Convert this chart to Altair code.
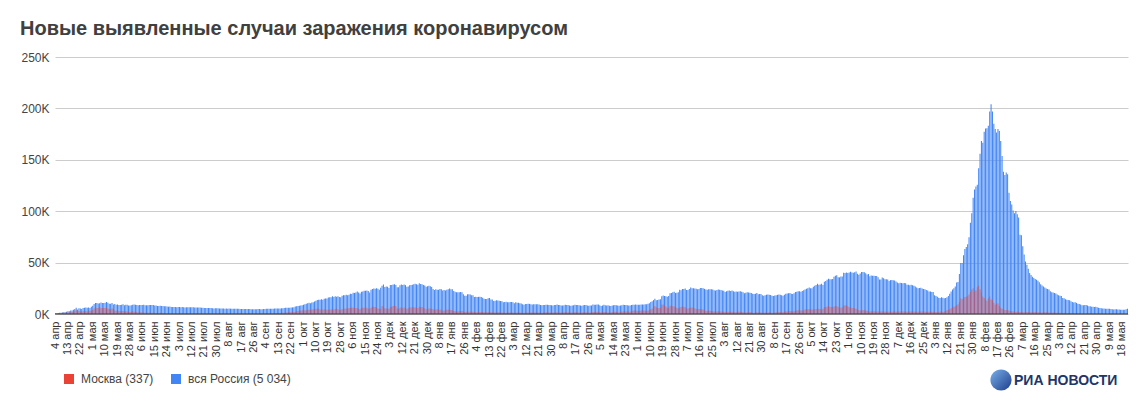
import altair as alt
import pandas as pd

# Daily new cases, thousands. Series starts on 4 Apr 2020, one value per day.
# Each inner list is one calendar month.
ru_2020 = [
    # Apr (from 4th)
    [0.58, 0.66, 0.95, 1.15, 1.18, 1.46, 1.79, 1.67, 2.19, 2.56,
     2.77, 3.39, 3.45, 4.07, 4.79, 6.06, 4.27, 5.64, 5.24, 4.77,
     5.85, 5.97, 6.36, 6.20, 6.41, 5.84, 7.10],
    # May
    [7.93, 9.62, 10.63, 10.58, 10.10, 10.56, 11.23, 10.70, 10.82, 11.01,
     11.66, 10.90, 10.03, 9.97, 10.60, 9.20, 9.71, 8.93, 9.26, 8.76,
     8.85, 8.89, 9.43, 8.60, 8.95, 8.92, 8.34, 8.37, 8.57, 8.95, 9.27],
    # Jun
    [9.04, 8.86, 8.54, 8.83, 8.73, 8.86, 8.98, 8.60, 8.59, 8.40,
     8.78, 8.71, 8.71, 8.83, 8.25, 8.25, 7.84, 7.79, 7.97, 7.89,
     7.73, 7.60, 7.43, 7.18, 7.11, 7.18, 6.85, 6.79, 6.69, 6.69],
    # Jul
    [6.56, 6.76, 6.76, 6.63, 6.74, 6.61, 6.37, 6.56, 6.51, 6.64,
     6.61, 6.62, 6.54, 6.25, 6.42, 6.43, 6.43, 6.41, 6.11, 6.00,
     5.84, 5.86, 5.81, 5.81, 5.87, 5.77, 5.64, 5.39, 5.48, 5.51, 5.48],
    # Aug
    [5.46, 5.43, 5.43, 5.40, 5.20, 5.24, 5.21, 5.24, 5.19, 5.12,
     5.10, 5.10, 5.06, 5.06, 5.06, 4.92, 4.84, 4.75, 4.79, 4.77,
     4.87, 4.92, 4.85, 4.68, 4.68, 4.68, 4.68, 4.71, 4.98, 4.89, 4.73],
    # Sep
    [4.73, 4.75, 4.95, 5.11, 5.20, 5.19, 5.10, 5.10, 5.10, 5.36,
     5.41, 5.45, 5.41, 5.45, 5.53, 5.67, 5.90, 6.07, 6.07, 6.14,
     6.15, 6.21, 6.43, 6.60, 7.21, 7.52, 7.87, 8.14, 8.23, 8.48],
    # Oct
    [8.95, 9.41, 9.86, 10.50, 10.89, 10.50, 11.12, 11.49, 12.13, 12.85,
     13.63, 13.87, 13.87, 14.23, 13.75, 14.92, 15.15, 15.05, 15.98, 16.32,
     16.32, 17.34, 16.52, 17.36, 16.71, 17.35, 16.55, 16.20, 17.72, 18.28, 18.14],
    # Nov
    [18.67, 18.26, 18.65, 19.77, 19.40, 20.58, 20.50, 20.98, 21.80, 20.98,
     19.85, 21.61, 21.98, 22.70, 22.57, 22.78, 22.41, 20.98, 23.61, 24.32,
     24.82, 24.58, 25.17, 24.58, 23.68, 25.49, 27.54, 28.78, 26.34, 26.68],
    # Dec
    [26.40, 25.35, 28.14, 28.21, 28.78, 29.04, 28.14, 26.10, 26.10, 27.93,
     28.58, 28.14, 28.59, 28.08, 26.43, 26.81, 27.95, 28.21, 28.55, 28.95,
     29.35, 28.93, 28.55, 29.94, 29.26, 29.02, 28.28, 27.79, 26.51, 27.04, 27.39],
]

ru_2021 = [
    # Jan
    [27.03, 26.30, 24.25, 23.35, 24.15, 23.54, 23.65, 24.25, 24.09, 22.85,
     23.31, 22.93, 23.54, 24.10, 24.72, 24.09, 23.96, 22.34, 21.73, 21.11,
     21.15, 21.13, 21.34, 21.13, 19.29, 17.74, 17.65, 19.14, 19.24, 19.03, 18.36],
    # Feb
    [18.36, 16.64, 16.71, 16.47, 16.69, 16.69, 16.42, 15.92, 14.93, 14.61,
     14.49, 15.22, 15.45, 14.18, 14.21, 12.74, 12.82, 13.43, 13.23, 12.95,
     12.74, 12.37, 11.53, 11.75, 11.83, 11.37, 11.53, 11.57],
    # Mar
    [11.57, 11.39, 10.54, 11.35, 11.02, 10.90, 10.51, 10.10, 9.43, 9.08,
     9.80, 9.64, 9.95, 9.85, 9.45, 9.30, 9.43, 9.39, 9.40, 9.55,
     9.27, 8.84, 8.46, 8.86, 8.77, 9.09, 9.07, 8.79, 8.72, 8.63, 8.33],
    # Apr
    [8.77, 8.78, 9.15, 8.65, 8.67, 8.33, 8.29, 8.63, 9.09, 8.81,
     8.70, 8.17, 8.05, 8.17, 8.59, 9.01, 8.73, 8.71, 8.53, 8.15,
     8.05, 8.60, 8.75, 8.78, 8.31, 8.05, 8.30, 8.27, 9.27, 8.95],
    # May
    [8.91, 9.12, 9.16, 8.60, 7.77, 8.26, 8.99, 8.59, 8.33, 8.43,
     7.98, 7.77, 8.22, 8.46, 8.79, 8.55, 8.20, 7.92, 8.22, 8.54,
     8.95, 8.82, 8.79, 8.49, 8.37, 8.19, 8.81, 8.95, 9.07, 9.27, 9.07],
    # Jun
    [9.02, 9.05, 9.32, 9.29, 9.33, 9.44, 9.41, 9.86, 10.41, 11.70,
     12.51, 13.51, 14.72, 13.40, 13.72, 14.06, 14.44, 17.26, 17.91, 17.61,
     17.38, 16.72, 17.59, 20.18, 20.39, 21.04, 21.65, 20.54, 20.62, 21.04],
    # Jul
    [23.54, 23.22, 24.44, 24.35, 24.70, 23.38, 23.29, 24.43, 25.77, 25.08,
     25.05, 24.70, 24.51, 23.96, 24.29, 25.29, 25.19, 25.16, 24.47, 23.77,
     23.70, 24.07, 24.14, 24.08, 23.95, 23.19, 22.80, 23.31, 23.81, 23.56, 23.27],
    # Aug
    [22.80, 22.59, 21.38, 22.12, 22.59, 22.82, 22.30, 22.77, 22.16, 21.57,
     21.93, 21.63, 21.99, 22.15, 21.62, 21.17, 20.30, 20.56, 21.06, 20.99,
     20.76, 20.40, 19.63, 19.57, 19.71, 20.37, 19.31, 19.51, 19.55, 18.33, 17.81],
    # Sep
    [18.34, 18.78, 18.86, 18.65, 18.40, 17.86, 17.53, 18.07, 18.34, 18.63,
     18.85, 18.73, 18.34, 17.84, 18.84, 19.59, 19.90, 20.17, 20.33, 19.71,
     19.38, 20.17, 21.38, 21.56, 22.07, 22.24, 21.56, 22.43, 23.06, 23.89],
    # Oct
    [24.52, 25.13, 25.78, 25.11, 25.13, 26.61, 27.55, 28.19, 29.36, 28.56,
     28.72, 29.41, 28.29, 31.30, 32.20, 33.21, 34.30, 33.74, 33.74, 34.07,
     36.34, 37.14, 37.68, 35.66, 35.66, 36.45, 36.58, 40.10, 39.85, 40.25, 39.85],
    # Nov
    [40.40, 40.99, 40.45, 40.22, 40.73, 41.34, 39.16, 38.06, 39.40, 40.78,
     40.76, 40.73, 39.67, 38.42, 38.82, 36.82, 37.37, 37.16, 37.12, 36.97,
     36.97, 35.68, 33.60, 33.56, 35.39, 34.76, 33.74, 33.86, 33.55, 32.14],
    # Dec
    [32.93, 33.01, 32.93, 32.65, 31.68, 30.65, 29.90, 30.40, 30.11, 30.02,
     30.23, 29.93, 28.49, 28.49, 27.97, 28.36, 27.96, 27.43, 26.82, 25.76,
     24.95, 25.19, 25.53, 24.70, 24.37, 24.12, 23.45, 22.93, 21.92, 21.99, 21.43],
]

ru_2022 = [
    # Jan
    [21.40, 18.20, 17.53, 16.72, 15.86, 15.61, 16.37, 15.83, 15.38, 15.51,
     16.25, 17.41, 19.75, 21.80, 23.82, 25.14, 26.82, 30.73, 31.25, 38.85,
     49.51, 49.51, 57.21, 63.21, 65.11, 67.81, 74.69, 88.82, 98.04, 113.12, 121.23],
    # Feb
    [124.07, 125.84, 141.88, 155.77, 168.20, 166.63, 177.27, 180.46, 180.71, 183.10,
     197.08, 203.95, 197.08, 185.00, 180.07, 176.48, 179.86, 178.07, 168.20, 153.71,
     138.37, 135.16, 137.58, 136.00, 118.00, 110.00, 106.60, 100.60],
    # Mar
    [98.00, 100.10, 96.97, 93.95, 77.09, 76.70, 65.80, 58.00, 51.00, 48.00,
     44.00, 40.00, 38.00, 36.12, 35.00, 34.00, 33.31, 32.30, 30.90, 28.98,
     27.64, 26.82, 25.86, 24.86, 24.28, 23.91, 22.10, 21.15, 20.89, 20.50, 19.90],
    # Apr
    [19.02, 18.28, 17.74, 17.46, 15.50, 15.40, 14.44, 13.91, 13.55, 13.41,
     12.41, 11.57, 11.11, 11.37, 10.82, 10.04, 9.76, 9.24, 8.43, 8.62,
     8.64, 8.76, 8.19, 7.62, 7.45, 7.15, 7.07, 6.89, 6.98, 6.61],
    # May (to 22nd)
    [6.20, 5.88, 5.58, 5.45, 5.31, 5.20, 5.15, 5.13, 5.05, 4.86,
     4.50, 4.48, 4.51, 4.60, 4.34, 4.35, 4.20, 4.24, 4.24, 4.20,
     4.60, 5.03],
]

msk_2020 = [
    # Apr (from 4th)
    [0.43, 0.40, 0.70, 0.70, 0.70, 1.12, 1.31, 1.12, 1.35, 1.49,
     1.36, 1.77, 1.96, 2.23, 3.08, 3.57, 2.65, 2.94, 2.68, 2.54,
     2.56, 2.96, 2.96, 2.51, 3.08, 3.18, 3.08],
    # May
    [3.87, 5.36, 6.00, 5.95, 5.85, 6.70, 5.95, 5.85, 5.72, 5.86,
     6.17, 5.39, 4.75, 4.60, 5.50, 4.75, 3.51, 3.24, 3.05, 2.91,
     2.70, 2.99, 2.97, 2.33, 2.73, 2.34, 2.05, 2.05, 2.22, 2.59, 2.29],
    # Jun
    [2.01, 1.84, 1.57, 1.83, 1.64, 1.57, 1.57, 1.28, 1.24, 1.20,
     1.20, 1.26, 1.27, 1.19, 1.14, 1.05, 1.06, 1.07, 1.10, 1.00,
     0.98, 0.86, 0.71, 0.73, 0.71, 0.76, 0.78, 0.70, 0.68, 0.67],
    # Jul
    [0.65, 0.67, 0.70, 0.64, 0.66, 0.60, 0.61, 0.65, 0.66, 0.61,
     0.60, 0.63, 0.62, 0.64, 0.64, 0.64, 0.61, 0.64, 0.62, 0.63,
     0.61, 0.60, 0.66, 0.64, 0.63, 0.64, 0.67, 0.62, 0.63, 0.65, 0.66],
    # Aug
    [0.68, 0.68, 0.69, 0.69, 0.68, 0.66, 0.65, 0.70, 0.68, 0.69,
     0.66, 0.66, 0.65, 0.65, 0.66, 0.67, 0.65, 0.66, 0.65, 0.64,
     0.68, 0.68, 0.66, 0.66, 0.66, 0.69, 0.70, 0.69, 0.72, 0.73, 0.74],
    # Sep
    [0.73, 0.76, 0.78, 0.79, 0.78, 0.80, 0.81, 0.79, 0.82, 0.83,
     0.92, 0.90, 0.97, 1.05, 1.12, 1.19, 1.33, 1.39, 1.56, 1.79,
     1.79, 1.79, 1.81, 2.05, 2.30, 2.70, 2.98, 3.33, 3.51, 3.75],
    # Oct
    [3.66, 3.54, 3.76, 4.05, 4.12, 4.16, 4.48, 4.60, 4.92, 5.02,
     5.29, 5.00, 4.46, 4.67, 4.23, 4.70, 4.27, 4.15, 4.23, 4.33,
     4.34, 4.63, 4.45, 4.92, 5.35, 4.52, 4.01, 4.07, 4.79, 4.56, 5.27],
    # Nov
    [5.26, 5.35, 5.90, 5.81, 6.25, 6.10, 6.05, 5.88, 6.20, 5.19,
     4.58, 5.91, 5.97, 6.20, 5.38, 6.01, 5.25, 5.21, 6.16, 7.17,
     7.17, 6.86, 6.44, 5.26, 5.05, 5.11, 7.68, 7.10, 5.52, 5.34],
    # Dec
    [5.07, 5.07, 6.59, 7.17, 7.83, 8.20, 7.70, 5.47, 5.10, 6.12,
     6.52, 5.66, 6.23, 6.00, 5.11, 5.59, 6.45, 6.43, 6.46, 6.46,
     6.36, 6.49, 5.89, 7.03, 6.69, 6.86, 6.17, 5.71, 4.57, 4.85, 5.38],
]

msk_2021 = [
    # Jan
    [5.32, 5.13, 4.59, 4.06, 4.27, 4.65, 4.29, 4.25, 4.32, 3.27,
     3.41, 3.67, 4.06, 4.03, 4.39, 3.92, 3.64, 2.80, 2.56, 2.63,
     2.52, 2.64, 2.80, 2.94, 2.33, 2.02, 2.13, 2.09, 2.12, 2.27, 2.10],
    # Feb
    [2.17, 1.85, 1.60, 1.71, 1.87, 2.01, 1.93, 1.90, 1.68, 1.67,
     1.70, 1.85, 1.80, 1.66, 1.63, 1.43, 1.43, 1.55, 1.73, 1.65,
     1.55, 1.50, 1.30, 1.40, 1.33, 1.40, 1.42, 1.36],
    # Mar
    [1.52, 1.44, 1.23, 1.25, 1.38, 1.43, 1.36, 1.29, 1.12, 1.12,
     1.25, 1.34, 1.46, 1.45, 1.48, 1.44, 1.34, 1.42, 1.45, 1.50,
     1.42, 1.20, 1.14, 1.42, 1.52, 1.63, 1.72, 1.58, 1.43, 1.29, 1.42],
    # Apr
    [1.56, 1.66, 1.62, 1.54, 1.43, 1.36, 1.48, 1.66, 1.82, 1.79,
     1.65, 1.52, 1.44, 1.52, 1.63, 1.78, 1.60, 1.53, 1.45, 1.40,
     1.46, 1.62, 1.76, 1.60, 1.55, 1.46, 1.58, 1.64, 1.92, 2.05],
    # May
    [2.07, 2.02, 2.09, 1.76, 1.39, 1.63, 2.04, 1.96, 1.66, 1.50,
     1.40, 1.43, 1.84, 2.04, 2.11, 1.97, 1.69, 1.46, 1.91, 2.29,
     2.54, 2.57, 2.53, 2.35, 2.38, 2.21, 2.75, 3.09, 3.32, 3.36, 3.11],
    # Jun
    [2.98, 3.13, 3.33, 3.34, 3.33, 3.24, 3.20, 3.32, 3.62, 4.65,
     5.24, 6.70, 7.70, 6.56, 5.78, 5.58, 6.20, 9.06, 9.12, 8.59,
     7.31, 5.78, 6.23, 7.92, 7.92, 7.59, 7.28, 6.56, 6.20, 5.38],
    # Jul
    [6.24, 6.77, 7.38, 6.97, 6.59, 5.34, 5.36, 5.81, 6.23, 6.40,
     6.26, 5.53, 4.94, 4.63, 4.95, 4.89, 4.62, 4.37, 3.67, 3.05,
     2.96, 3.35, 3.19, 2.97, 2.59, 2.35, 2.16, 2.50, 2.70, 2.55, 2.34],
    # Aug
    [2.12, 2.23, 1.78, 1.97, 2.23, 2.25, 2.19, 2.24, 1.92, 1.78,
     1.82, 2.07, 2.08, 2.09, 2.05, 1.73, 1.50, 1.48, 1.81, 1.81,
     1.88, 1.68, 1.33, 1.33, 1.41, 1.60, 1.53, 1.59, 1.55, 1.24, 1.13],
    # Sep
    [1.38, 1.45, 1.47, 1.66, 1.56, 1.28, 1.28, 1.46, 1.70, 1.82,
     1.84, 1.94, 1.72, 1.60, 2.07, 2.37, 2.51, 2.74, 2.81, 2.60,
     2.40, 2.68, 3.26, 3.40, 3.53, 3.66, 3.32, 3.30, 3.54, 4.30],
    # Oct
    [4.59, 4.66, 4.74, 4.50, 4.29, 4.41, 4.65, 4.84, 5.14, 5.09,
     4.84, 4.36, 5.12, 6.55, 6.69, 7.40, 7.65, 7.00, 6.74, 6.59,
     7.35, 7.59, 7.42, 7.07, 6.00, 6.01, 6.68, 8.00, 8.61, 8.37, 7.43],
    # Nov
    [6.57, 6.39, 6.16, 5.82, 5.55, 5.10, 4.45, 3.84, 3.46, 3.57,
     3.77, 3.60, 3.40, 3.22, 2.98, 2.52, 2.56, 2.75, 2.65, 2.54,
     2.49, 2.41, 2.27, 2.36, 2.45, 2.33, 2.26, 2.30, 2.29, 2.09],
    # Dec
    [2.20, 2.26, 2.32, 2.39, 2.30, 2.18, 2.34, 2.46, 2.48, 2.48,
     2.46, 2.38, 2.15, 2.25, 2.34, 2.40, 2.43, 2.37, 2.28, 2.21,
     2.30, 2.40, 2.45, 2.39, 2.32, 2.24, 2.02, 2.14, 2.29, 2.53, 2.27],
]

msk_2022 = [
    # Jan
    [2.31, 2.06, 1.88, 1.80, 2.00, 2.51, 2.24, 2.01, 2.35, 2.99,
     3.56, 4.00, 4.50, 5.50, 6.90, 7.10, 7.50, 8.40, 9.50, 11.60,
     15.40, 14.50, 16.00, 16.50, 17.00, 17.30, 19.00, 21.40, 23.50, 25.10, 22.00],
    # Feb
    [23.00, 26.00, 27.50, 24.00, 21.00, 17.00, 15.50, 13.50, 13.00, 15.00,
     17.00, 14.00, 13.50, 11.00, 9.00, 10.00, 10.50, 8.00, 6.00, 5.00,
     4.50, 4.00, 3.80, 3.60, 3.30, 3.00, 2.70, 2.50],
    # Mar
    [2.40, 2.30, 2.20, 2.10, 2.00, 1.90, 1.70, 1.60, 1.80, 2.00,
     1.90, 1.80, 1.70, 1.60, 1.80, 1.90, 1.80, 1.70, 1.60, 1.50,
     1.40, 1.60, 1.70, 1.60, 1.50, 1.40, 1.30, 1.30, 1.40, 1.40, 1.30],
    # Apr
    [1.30, 1.20, 1.10, 1.10, 1.00, 1.10, 1.00, 1.00, 0.90, 0.90,
     0.80, 0.80, 0.80, 0.80, 0.70, 0.70, 0.70, 0.60, 0.60, 0.60,
     0.60, 0.60, 0.50, 0.50, 0.50, 0.50, 0.50, 0.50, 0.50, 0.50],
    # May (to 22nd)
    [0.45, 0.42, 0.40, 0.40, 0.42, 0.40, 0.38, 0.36, 0.35, 0.38,
     0.40, 0.39, 0.38, 0.37, 0.35, 0.34, 0.36, 0.37, 0.36, 0.35,
     0.34, 0.337],
]

month_names = ["янв", "фев", "мар", "апр", "мая", "июн",
               "июл", "авг", "сен", "окт", "ноя", "дек"]
y_ticks = [0, 50, 100, 150, 200, 250]
label_msk = "Москва (337)"
label_ru = "вся Россия (5 034)"
title_text = "Новые выявленные случаи заражения коронавирусом"

# ---- build the table ----
ru = [v for year in (ru_2020, ru_2021, ru_2022) for month in year for v in month]
msk = [v for year in (msk_2020, msk_2021, msk_2022) for month in year for v in month]
n = min(len(ru), len(msk))
dates = pd.date_range("2020-04-04", periods=n, freq="D")
keys = [f"{d:%Y-%m-%d}|{d.day} {month_names[d.month - 1]}" for d in dates]
tick_keys = keys[::9]

df = pd.DataFrame({
    "key": keys + keys,
    "series": [label_ru] * n + [label_msk] * n,
    "value": ru[:n] + msk[:n],
})

FONT = "Liberation Sans"

x_enc = alt.X(
    "key:O", title=None,
    scale=alt.Scale(paddingInner=0.25, paddingOuter=0),
    axis=alt.Axis(
        values=tick_keys, labelExpr="substring(datum.value, 11)",
        labelAngle=-90, labelAlign="right", labelBaseline="middle",
        ticks=False, domain=False, grid=False, labelPadding=7,
        labelFont=FONT, labelFontSize=11, labelColor="#333333",
        labelOverlap=False, labelBound=False,
    ),
)
y_enc = alt.Y(
    "value:Q", title=None, stack=None,
    scale=alt.Scale(domain=[0, 250], nice=False),
    axis=alt.Axis(
        values=y_ticks, labelExpr="datum.value + 'K'",
        grid=True, gridColor="#cccccc", gridWidth=1,
        ticks=False, domain=False, labelPadding=6,
        labelFont=FONT, labelFontSize=12, labelColor="#444444",
    ),
)
color_enc = alt.Color(
    "series:N",
    scale=alt.Scale(domain=[label_msk, label_ru], range=["#ea4335", "#4285f4"]),
    legend=alt.Legend(
        title=None, orient="none", legendX=8, legendY=316,
        direction="horizontal", symbolType="square", symbolSize=100,
        symbolOpacity=1, symbolStrokeWidth=0,
        labelFont=FONT, labelFontSize=12, labelColor="#444444",
        labelOffset=6, columnPadding=16, padding=0,
    ),
)

base = alt.Chart(df).encode(x=x_enc, y=y_enc, color=color_enc)
blue = base.transform_filter(alt.datum.series == label_ru).mark_bar(opacity=1)
red = base.transform_filter(alt.datum.series == label_msk).mark_bar(opacity=0.55)

zero = alt.Chart(pd.DataFrame({"z": [0]})).mark_rule(
    color="#333333", strokeWidth=1
).encode(y=alt.Y("z:Q", title=None))

logo_globe = alt.Chart(pd.DataFrame({"g": [1]})).mark_circle(
    size=450, opacity=1,
    color=alt.LinearGradient(
        gradient="linear",
        stops=[alt.GradientStop(color="#7ab0ea", offset=0),
               alt.GradientStop(color="#1c3d8c", offset=1)],
        x1=0, x2=1, y1=0, y2=1,
    ),
).encode(x=alt.value(946), y=alt.value(323))

logo_text = alt.Chart(pd.DataFrame({"t": ["РИА НОВОСТИ"]})).mark_text(
    align="left", baseline="alphabetic", font=FONT, fontSize=14,
    fontWeight="bold", color="#22356a",
).encode(x=alt.value(959), y=alt.value(328), text="t:N")

chart = alt.layer(blue, red, zero, logo_globe, logo_text).properties(
    width=1073, height=257,
    padding={"left": 47, "top": 49, "right": 9, "bottom": 79},
    autosize=alt.AutoSizeParams(type="none"),
    title=alt.TitleParams(
        title_text, anchor="start", frame="group", dx=-35, offset=12,
        font=FONT, fontSize=20, fontWeight="bold", color="#404040",
    ),
).configure_view(stroke=None)

chart.save("out.html", embed_options={"renderer": "svg", "actions": False})
